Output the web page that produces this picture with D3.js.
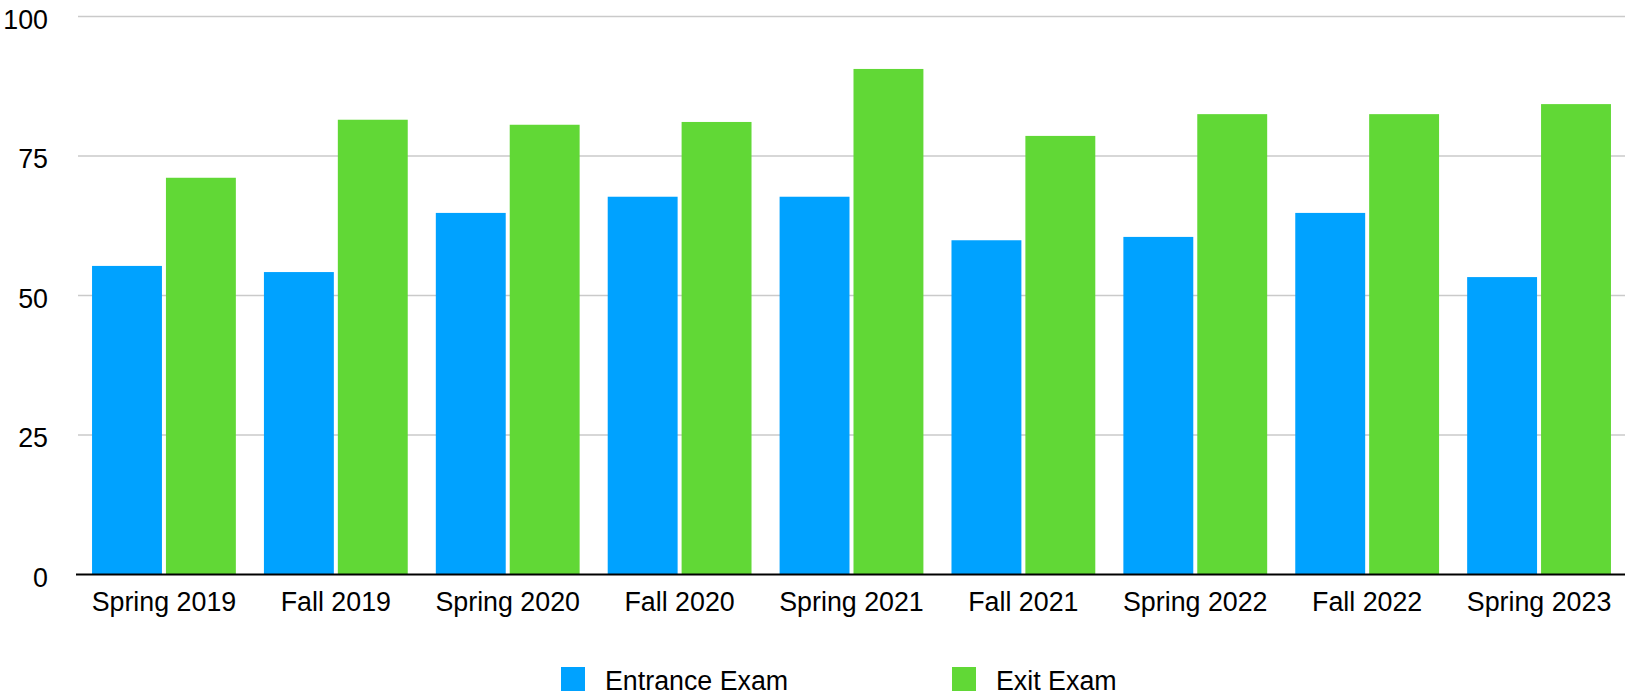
<!DOCTYPE html>
<html>
<head>
<meta charset="utf-8">
<script src="https://cdn.jsdelivr.net/npm/d3@7"></script>
<style>
  html, body { margin: 0; padding: 0; background: #fff; }
  svg { display: block; }
  text { font-family: "Liberation Sans", Arial, Helvetica, sans-serif; fill: #000; }
</style>
</head>
<body>
<svg id="chart" width="1637" height="698"></svg>
<script>
const categories = ["Spring 2019", "Fall 2019", "Spring 2020", "Fall 2020", "Spring 2021", "Fall 2021", "Spring 2022", "Fall 2022", "Spring 2023"];
const seriesNames = ["Entrance Exam", "Exit Exam"];
const entranceExam = [55.3, 54.2, 64.8, 67.7, 67.7, 59.9, 60.5, 64.8, 53.3];
const exitExam = [71.1, 81.5, 80.6, 81.1, 90.6, 78.6, 82.5, 82.5, 84.3];
const seriesColors = ["#00A2FF", "#61D836"];
const yTicks = [0, 25, 50, 75, 100];

const seriesValues = [entranceExam, exitExam];
const data = categories.map((c, i) => ({
  category: c,
  values: seriesNames.map((s, j) => ({ key: s, value: seriesValues[j][i] }))
}));

const svg = d3.select("#chart");
const plotLeft = 78, plotRight = 1625, plotTop = 16.5, plotBottom = 574.5;
const fontSize = 26.8;

const x0 = d3.scaleBand().domain(categories).range([plotLeft, plotRight]).paddingInner(0).paddingOuter(0);
const x1 = d3.scaleBand().domain(seriesNames).range([0, x0.bandwidth()]).paddingInner(0.054).paddingOuter(0.19);
const y = d3.scaleLinear().domain([0, 100]).range([plotBottom, plotTop]);
const color = d3.scaleOrdinal().domain(seriesNames).range(seriesColors);

// gridlines
svg.append("g").selectAll("line").data(yTicks.filter(t => t !== 0)).join("line")
  .attr("x1", plotLeft).attr("x2", plotRight)
  .attr("y1", d => y(d)).attr("y2", d => y(d))
  .attr("stroke", "#cacaca").attr("stroke-width", 1.5);

// y labels
svg.append("g").selectAll("text").data(yTicks).join("text")
  .attr("x", 48).attr("y", d => y(d) + 3)
  .attr("text-anchor", "end").attr("dominant-baseline", "central")
  .style("font-size", fontSize + "px")
  .text(d => d);

// bars
const groups = svg.append("g").selectAll("g").data(data).join("g")
  .attr("transform", d => `translate(${x0(d.category)},0)`);
groups.selectAll("rect").data(d => d.values).join("rect")
  .attr("x", d => x1(d.key))
  .attr("width", x1.bandwidth())
  .attr("y", d => y(d.value))
  .attr("height", d => y(0) - y(d.value))
  .attr("fill", d => color(d.key));

// x axis line
svg.append("line")
  .attr("x1", plotLeft - 2).attr("x2", plotRight)
  .attr("y1", y(0)).attr("y2", y(0))
  .attr("stroke", "#000").attr("stroke-width", 2.2);

// x labels
svg.append("g").selectAll("text").data(categories).join("text")
  .attr("x", d => x0(d) + x0.bandwidth() / 2)
  .attr("y", 611)
  .attr("text-anchor", "middle")
  .style("font-size", fontSize + "px")
  .text(d => d);

// legend
const legendX = [561, 952];
const legend = svg.append("g").selectAll("g").data(seriesNames).join("g")
  .attr("transform", (d, i) => `translate(${legendX[i]},667)`);
legend.append("rect").attr("width", 24).attr("height", 24).attr("fill", d => color(d));
legend.append("text").attr("x", 44).attr("y", 22.5)
  .style("font-size", fontSize + "px").text(d => d);
</script>
</body>
</html>
